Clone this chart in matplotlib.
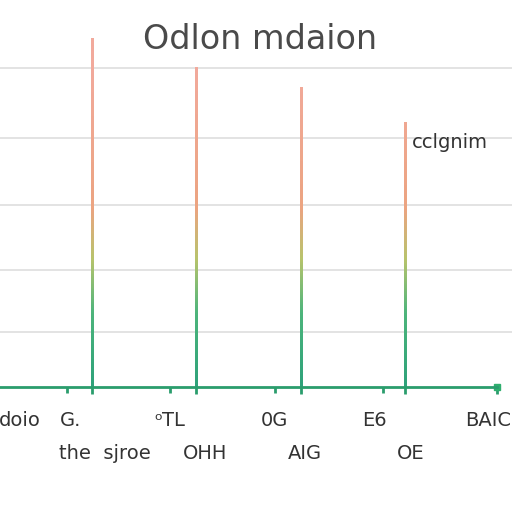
import matplotlib.pyplot as plt
import numpy as np
from matplotlib.colors import LinearSegmentedColormap

# data
stem_x = [1, 2, 3, 4]
stem_h = [5.45, 5.0, 4.7, 4.18]
grid_vals = [1, 1.94, 2.93, 3.94, 5]
minor_x = [0.76, 1.75, 2.75, 3.79]
title = "Odlon mdaion"
note = "cclgnim"
row1_labels = ["doio", "G.", "\u1d52\u0422L", "0G", "E6", "BAIC"]
row1_x = [0.31, 0.79, 1.75, 2.75, 3.71, 4.8]
row2_labels = ["the  sjroe", "OHH", "AIG", "OE"]
row2_x = [1.12, 2.08, 3.04, 4.05]

base = 0.17
top = 6.03
cmap = LinearSegmentedColormap.from_list(
    "g", [(0, "#2ea27a"), (0.23, "#4db57c"), (0.40, "#b8c46c"),
          (0.56, "#eca481"), (1, "#f2aa9c")])

fig = plt.figure(figsize=(5.12, 5.12), dpi=100)
ax = fig.add_axes([0, 0.244, 1, 0.756])

for v in grid_vals:
    ax.axhline(v, color="#dedede", lw=1.2, zorder=0)

w = 0.011
for x, h in zip(stem_x, stem_h):
    img = np.linspace(base, h, 256).reshape(-1, 1)
    ax.imshow(img, cmap=cmap, vmin=base, vmax=5.0, origin="lower",
              extent=[x - w, x + w, base, h], aspect="auto",
              interpolation="bilinear", zorder=2)

ax.plot([0.118, 4.88], [base, base], color="#2a9d6d", lw=2, clip_on=False,
        zorder=3)
ax.plot([4.88], [base], marker="s", color="#2fae6e", ms=5, clip_on=False)

for s in ax.spines.values():
    s.set_visible(False)
ax.set_yticks([])
ax.set_xticks(stem_x + [4.88])
ax.set_xticks(minor_x, minor=True)
ax.tick_params(axis="x", which="both", length=5, width=2, color="#2a9d6d",
               labelbottom=False)
ax.tick_params(axis="x", which="minor", length=4)
ax.set_xlim(0.118, 5.025)
ax.set_ylim(base, top)

fig.text(0.508, 0.922, title, ha="center", va="center", fontsize=24,
         color="#4a4a4a")
ax.text(4.07, 3.87, note, ha="left", va="center", fontsize=14,
        color="#333333")

for lab, x in zip(row1_labels, row1_x):
    ax.text(x, base - 0.51, lab, ha="center", va="center", fontsize=14,
            color="#333333", clip_on=False)
for lab, x in zip(row2_labels, row2_x):
    ax.text(x, base - 1.0, lab, ha="center", va="center", fontsize=14,
            color="#333333", clip_on=False)

plt.savefig("out.png")
